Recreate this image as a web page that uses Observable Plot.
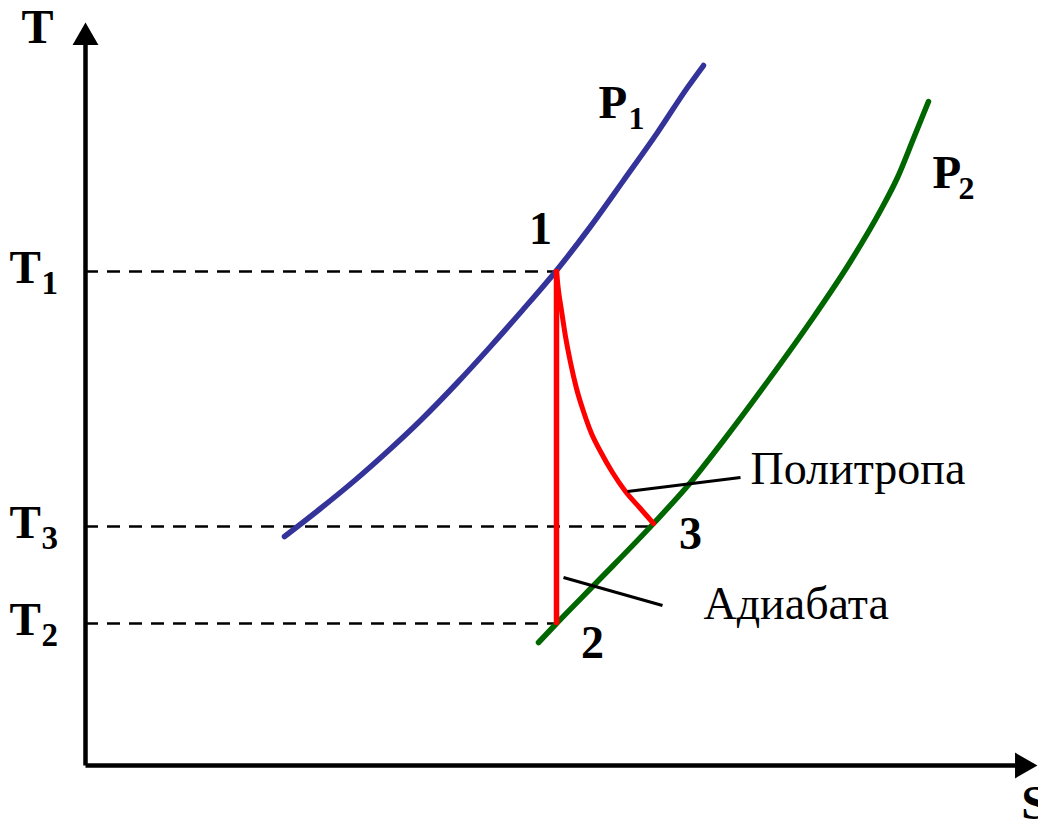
<!DOCTYPE html>
<html>
<head>
<meta charset="utf-8">
<script src="https://cdn.jsdelivr.net/npm/d3@7"></script>
<script src="https://cdn.jsdelivr.net/npm/@observablehq/plot@0.6"></script>
<style>
  html, body { margin: 0; padding: 0; background: #fff; }
  svg { display: block; overflow: visible; }
</style>
</head>
<body>
<div id="chart"></div>
<script>
// ---- data (S = entropy units, T = temperature units, origin at axis corner) ----
const p1S = [199, 235, 268, 302, 335, 372, 405, 435, 471, 505, 538, 572, 602, 618];
const p1T = [229, 257, 284, 314, 345, 383, 419, 453, 495, 539, 585, 633, 678, 700];

const p2S = [453, 471, 513, 568, 605, 638, 685, 725, 765, 795, 812, 828, 843];
const p2T = [123, 142, 185, 242, 283, 325, 388, 444, 504, 555, 588, 627, 664];

const polyS = [471, 473, 476, 480, 485, 491, 498, 506, 515, 527, 540, 554, 568];
const polyT = [494, 475, 455, 429, 403, 377, 354, 332, 314, 293, 274, 258, 242];

const adiabatS = [471, 471];
const adiabatT = [494, 143];

const levelNames = ["T1", "T3", "T2"];
const levelT = [494, 239, 142];
const levelEnd = [471, 567, 471];
const levelSubs = ["1", "3", "2"];

const pointNames = ["1", "2", "3"];
const pointS = [455, 507, 605];
const pointT = [522, 108, 217];

const leaderNames = ["Политропа", "Адиабата"];
const leaderS0 = [542, 478];
const leaderT0 = [274, 188];
const leaderS1 = [655, 577];
const leaderT1 = [288, 160];
const leaderTextS = [665, 618];
const leaderTextT = [282, 147];

const pressureNames = ["P", "P"];
const pressureSubs = ["1", "2"];
const pressureS = [513, 847];
const pressureT = [648, 578];
const pressureSubS = [543, 873];
const pressureSubT = [637, 567];

const axisNames = ["T", "S"];
const axisLabelS = [-48, 949];
const axisLabelT = [723, -53];

// ---- tables ----
const p1 = p1S.map((s, i) => ({s, t: p1T[i]}));
const p2 = p2S.map((s, i) => ({s, t: p2T[i]}));
const poly = polyS.map((s, i) => ({s, t: polyT[i]}));
const adiabat = adiabatS.map((s, i) => ({s, t: adiabatT[i]}));
const levels = levelNames.map((n, i) => ({n, t: levelT[i], end: levelEnd[i], sub: levelSubs[i]}));
const points = pointNames.map((n, i) => ({n, s: pointS[i], t: pointT[i]}));
const leaders = leaderNames.map((n, i) => ({n, s0: leaderS0[i], t0: leaderT0[i], s1: leaderS1[i], t1: leaderT1[i], ts: leaderTextS[i], tt: leaderTextT[i]}));
const pressures = pressureNames.map((n, i) => ({n, sub: pressureSubs[i], s: pressureS[i], t: pressureT[i], ss: pressureSubS[i], st: pressureSubT[i]}));
const axisLabels = axisNames.map((n, i) => ({n, s: axisLabelS[i], t: axisLabelT[i]}));
const axisLines = [{s0: 0, t0: 0, s1: 0, t1: 735}, {s0: 0, t0: 0, s1: 940, t1: 0}];
const arrowHeads = [{s: 0, t: 728, r: 0}, {s: 937, t: 0, r: 90}];

const serif = "Liberation Serif, Times New Roman, serif";

const chart = Plot.plot({
  width: 1038,
  height: 820,
  margin: 0,
  x: {domain: [-85, 953], axis: null},
  y: {domain: [-55, 765], axis: null},
  style: {background: "#fff", fontFamily: serif},
  marks: [
    // dashed level lines
    Plot.ruleY(levels, {y: "t", x1: 0, x2: "end", stroke: "black", strokeWidth: 2.5, strokeDasharray: "13,9"}),
    // axes
    Plot.link(axisLines, {x1: "s0", y1: "t0", x2: "s1", y2: "t1", stroke: "black", strokeWidth: 4.5}),
    Plot.dot(arrowHeads, {x: "s", y: "t", rotate: "r", symbol: "triangle", r: 9.6, fill: "black", stroke: null}),
    // isobars
    Plot.line(p1, {x: "s", y: "t", stroke: "#333399", strokeWidth: 5.5, curve: "monotone-x"}),
    Plot.line(p2, {x: "s", y: "t", stroke: "#006600", strokeWidth: 5.5, curve: "monotone-x"}),
    // processes
    Plot.line(adiabat, {x: "s", y: "t", stroke: "#ff0000", strokeWidth: 5.5}),
    Plot.line(poly, {x: "s", y: "t", stroke: "#ff0000", strokeWidth: 5, curve: "monotone-x"}),
    // leader lines
    Plot.link(leaders, {x1: "s0", y1: "t0", x2: "s1", y2: "t1", stroke: "black", strokeWidth: 3}),
    // texts
    Plot.text(leaders, {x: "ts", y: "tt", text: "n", textAnchor: "start", lineAnchor: "bottom", fontSize: 46, fontFamily: serif, fill: "black"}),
    Plot.text(axisLabels, {x: "s", y: "t", text: "n", textAnchor: "middle", lineAnchor: "bottom", fontSize: 48, fontWeight: "bold", fontFamily: serif, fill: "black"}),
    Plot.text(points, {x: "s", y: "t", text: "n", textAnchor: "middle", lineAnchor: "bottom", fontSize: 46, fontWeight: "bold", fontFamily: serif, fill: "black", ariaLabel: "pointlabels"}),
    Plot.text(pressures, {x: "s", y: "t", text: "n", textAnchor: "start", lineAnchor: "bottom", fontSize: 47, fontWeight: "bold", fontFamily: serif, fill: "black"}),
    Plot.text(pressures, {x: "ss", y: "st", text: "sub", textAnchor: "start", lineAnchor: "bottom", fontSize: 32, fontWeight: "bold", fontFamily: serif, fill: "black"}),
    Plot.text(levels, {x: -76, y: (d) => d.t - 11, text: () => "T", textAnchor: "start", lineAnchor: "bottom", fontSize: 47, fontWeight: "bold", fontFamily: serif, fill: "black", ariaLabel: "levelT"}),
    Plot.text(levels, {x: -44, y: (d) => d.t - 22, text: "sub", textAnchor: "start", lineAnchor: "bottom", fontSize: 33, fontWeight: "bold", fontFamily: serif, fill: "black", ariaLabel: "levelSub"})
  ]
});

// horizontally stretched labels, as in the reference
function stretch(label, k) {
  chart.querySelectorAll(`g[aria-label="${label}"] text`).forEach((el) => {
    const tr = el.getAttribute("transform");
    if (tr) el.setAttribute("transform", tr + ` scale(${k},1)`);
    else {
      const x = +el.getAttribute("x") || 0, y = +el.getAttribute("y") || 0;
      el.setAttribute("transform", `translate(${x},${y}) scale(${k},1) translate(${-x},${-y})`);
    }
  });
}
stretch("levelT", 1.45);
stretch("levelSub", 1.45);
stretch("pointlabels", 1.15);

document.getElementById("chart").appendChild(chart);
</script>
</body>
</html>
